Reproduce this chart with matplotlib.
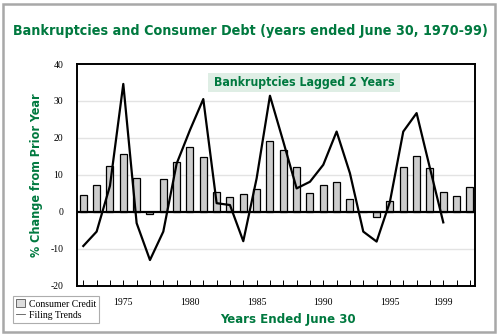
import matplotlib
matplotlib.use("Agg")
import matplotlib.pyplot as plt
from matplotlib import font_manager
from matplotlib.font_manager import FontProperties
from matplotlib.patches import Rectangle, Patch
from matplotlib.lines import Line2D

# Consumer credit growth (bars), one value per plotted year
years = list(range(1972, 2002))
consumer_credit = [4.5, 7.2, 12.4, 15.5, 9.2, -0.6, 8.8, 13.4, 17.5, 14.9,
                   5.3, 4.1, 4.8, 6.1, 19.2, 16.6, 12.1, 5.0, 7.1, 8.1,
                   3.3, 0.0, -1.5, 3.0, 12.2, 15.1, 11.8, 5.3, 4.3, 6.6]

# Bankruptcy filing trends (line)
filing_years = list(range(1972, 2000))
filing_trends = [-9.3, -5.4, 7.0, 34.6, -3.1, -13.1, -5.4, 13.0, 22.1, 30.5,
                 2.3, 1.8, -8.0, 9.0, 31.4, 19.0, 6.3, 8.1, 12.7, 21.7,
                 10.4, -5.4, -8.1, 2.7, 21.7, 26.7, 11.8, -2.9]

year_labels = [1975, 1980, 1985, 1990, 1995, 1999]
y_ticks = [-20, -10, 0, 10, 20, 30, 40]

GREEN = "#00793f"
SERIF = "Liberation Serif"
W, H = 499, 334


def heading_font():
    """Prefer a narrow/condensed bold sans; fall back to Roboto bold."""
    best = None
    for f in font_manager.fontManager.ttflist:
        name = (f.name + " " + f.fname).lower()
        narrow = ("narrow" in name or "condensed" in name
                  or f.stretch in ("condensed", "semi-condensed"))
        bold = f.weight in ("bold", 700, "heavy", 800) or "bold" in f.fname.lower()
        if narrow and bold and "oblique" not in name and "italic" not in name:
            if "sans" in name:
                return FontProperties(fname=f.fname)
            best = best or f.fname
    if best:
        return FontProperties(fname=best)
    return FontProperties(family="Roboto", weight="bold")


HEAD = heading_font()

fig = plt.figure(figsize=(W / 100, H / 100), dpi=100)
renderer = fig.canvas.get_renderer()


def fit_text(x, y, s, span, rotation=0, **kw):
    """Place a heading and scale its size so it spans `span` pixels."""
    fp = HEAD.copy()
    fp.set_size(10)
    t = fig.text(x / W, 1 - y / H, s, ha="center", va="center", color=GREEN,
                 fontproperties=fp, rotation=rotation, **kw)
    bb = t.get_window_extent(renderer)
    length = bb.height if rotation else bb.width
    fp.set_size(10 * span / length)
    t.set_fontproperties(fp)
    return t


# outer frame
fig.patches.append(Rectangle((2.5 / W, 2.5 / H), 492 / W, 328 / H,
                             transform=fig.transFigure, fill=False,
                             edgecolor="#a8a8a8", lw=1.8))

ax = fig.add_axes([77.3 / W, 1 - 285.5 / H, (475 - 77.3) / W, (285.5 - 64) / H])

for v in [-10, 10, 20, 30]:
    ax.axhline(v, color="#e3e3e3", lw=1.0, zorder=0)

ax.bar(years, consumer_credit, width=0.52, color="#cccccc",
       edgecolor="black", linewidth=0.9, zorder=2)
ax.axhline(0, color="black", lw=1.6, zorder=3)
ax.plot(filing_years, filing_trends, color="black", lw=1.6, zorder=4)

ax.set_xlim(1972 - 0.45, 1972 + 29.38)
ax.set_ylim(-20, 40)
ax.set_xticks(years)
ax.set_xticklabels([str(y) if y in year_labels else "" for y in years],
                   family=SERIF, fontsize=7)
ax.set_yticks(y_ticks)
ax.set_yticklabels([str(v) for v in y_ticks], family=SERIF, fontsize=7)
ax.tick_params(axis="x", direction="in", length=4, width=0.7, pad=9)
ax.tick_params(axis="y", length=0, pad=10)
for s in ax.spines.values():
    s.set_linewidth(1.4)

fit_text(250.5, 31, "Bankruptcies and Consumer Debt (years ended June 30, 1970-99)", 472)
fit_text(36.5, 175, "% Change from Prior Year", 162, rotation=90)
fit_text(287.5, 320, "Years Ended June 30", 136)

# caption box inside the plot
fig.patches.append(Rectangle((208 / W, 1 - 91.8 / H), 192 / W, 19.3 / H,
                             transform=fig.transFigure, facecolor="#dfeee5",
                             edgecolor="none", zorder=5))
fit_text(304, 82.3, "Bankruptcies Lagged 2 Years", 180, zorder=6)

handles = [Patch(facecolor="#dddddd", edgecolor="#555555", linewidth=0.6),
           Line2D([], [], color="#555555", lw=0.6)]
leg = fig.legend(handles, ["Consumer Credit", "Filing Trends"],
                 loc="lower left", bbox_to_anchor=(13 / W, 11 / H),
                 prop={"family": SERIF, "size": 7}, frameon=True,
                 fancybox=False, handlelength=0.9, handleheight=0.9,
                 handletextpad=0.4, borderpad=0.3, labelspacing=0.2,
                 borderaxespad=0)
leg.get_frame().set_edgecolor("#999999")
leg.get_frame().set_linewidth(0.8)

fig.savefig("out.png", dpi=100)
